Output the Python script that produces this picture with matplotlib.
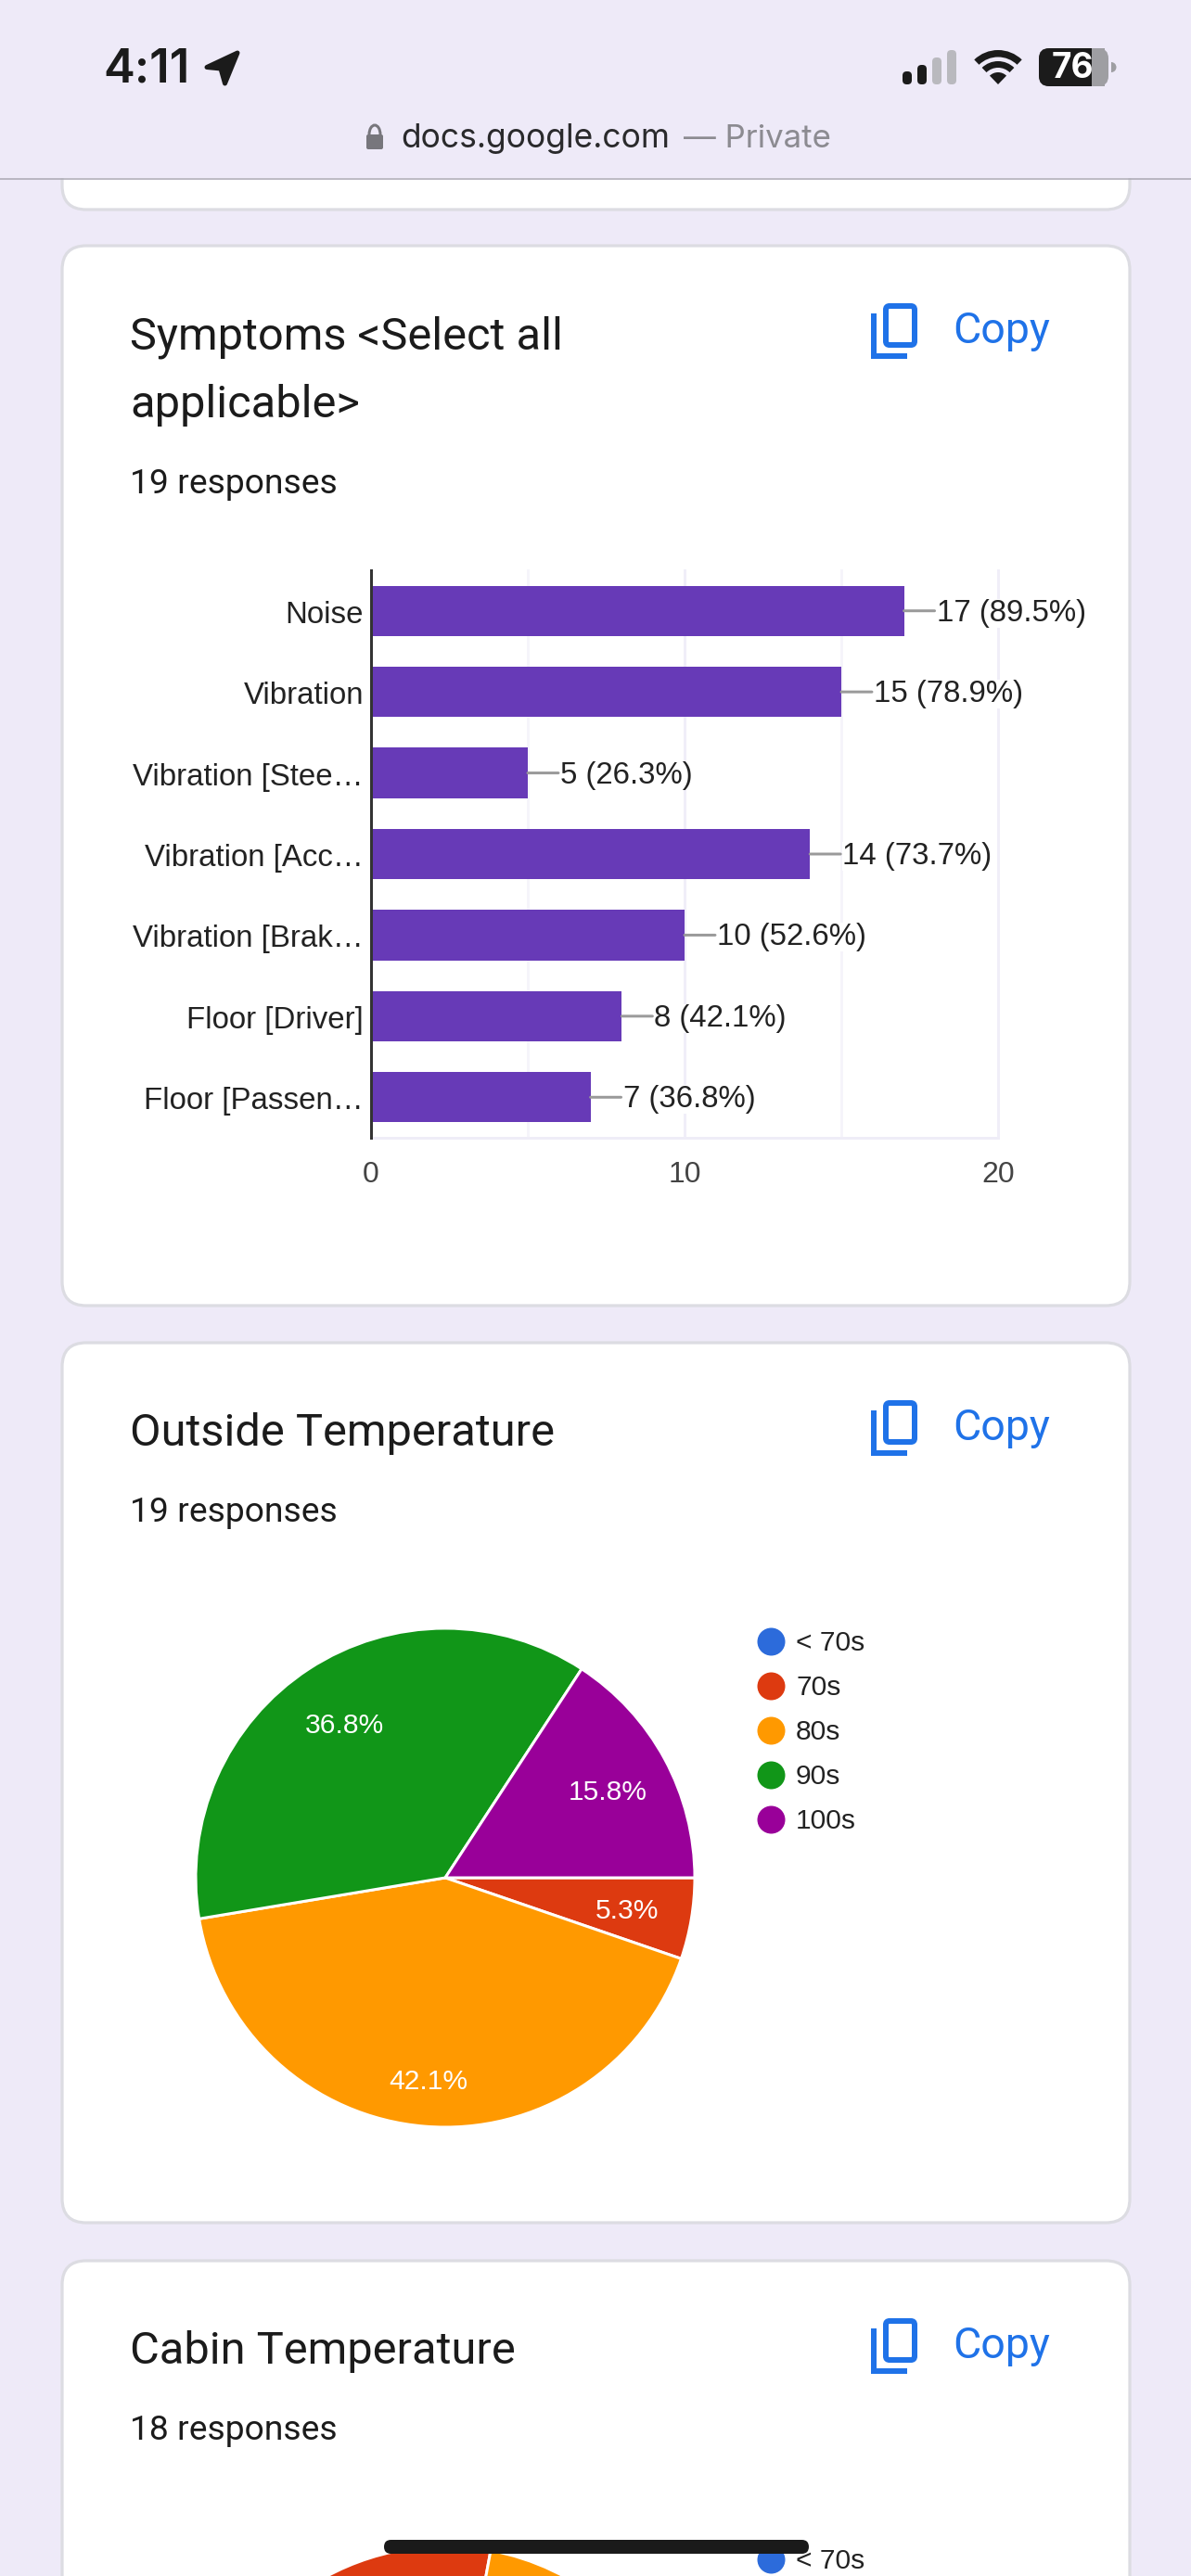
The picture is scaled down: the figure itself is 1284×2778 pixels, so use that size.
import matplotlib
matplotlib.use("Agg")
import matplotlib.pyplot as plt
from matplotlib.patches import FancyBboxPatch, Rectangle, Wedge, Polygon, Arc
from matplotlib.lines import Line2D
from matplotlib.transforms import ScaledTranslation

# ---------- data ----------
symptom_labels = ["Noise", "Vibration", "Vibration [Stee…", "Vibration [Acc…",
                  "Vibration [Brak…", "Floor [Driver]", "Floor [Passen…"]
symptom_counts = [17, 15, 5, 14, 10, 8, 7]
symptom_pcts = ["89.5", "78.9", "26.3", "73.7", "52.6", "42.1", "36.8"]
bar_ticks = [0, 10, 20]
bar_grid = [5, 10, 15, 20]

temp_labels = ["< 70s", "70s", "80s", "90s", "100s"]
outside_counts = [0, 1, 8, 7, 3]
cabin_counts = [0, 9, 6, 3, 0]   # mostly hidden below the screen edge: estimated

# ---------- style ----------
W, H = 1284, 2778
DPI = 100
BG = "#EEEAF8"
CARD_EDGE = "#DCDCE2"
INK = "#1B1B1B"
BLUE = "#1F72E8"
BAR = "#673AB7"
PIE_COLORS = ["#2C6BDB", "#DD3A10", "#FF9900", "#119618", "#990099"]
UI = "Roboto"
CHART = "Liberation Sans"
SYS = "Inter"


def pt(px):
    return px * 72 / DPI


fig = plt.figure(figsize=(W / DPI, H / DPI), dpi=DPI, facecolor=BG)


def pixel_axes(z):
    a = fig.add_axes([0, 0, 1, 1], zorder=z)
    a.set_xlim(0, W)
    a.set_ylim(H, 0)
    a.axis("off")
    a.patch.set_alpha(0)
    return a


def place(x0, y0, x1, y1, z=2):
    return fig.add_axes([x0 / W, 1 - y1 / H, (x1 - x0) / W, (y1 - y0) / H], zorder=z)


bg = pixel_axes(0)
top = pixel_axes(10)

# ---------- cards ----------
for y0, y1 in [(-200, 226), (265, 1408), (1448, 2397), (2438, 3400)]:
    bg.add_patch(FancyBboxPatch((67, y0), 1151, y1 - y0,
                                boxstyle="round,pad=0,rounding_size=26",
                                fc="white", ec=CARD_EDGE, lw=pt(3.2)))


def copy_button(dy):
    bg.add_patch(FancyBboxPatch((955, 330 + dy), 31, 42, boxstyle="round,pad=0,rounding_size=4",
                                fc="none", ec=BLUE, lw=pt(6)))
    bg.add_line(Line2D([942, 942, 978], [338 + dy, 384 + dy, 384 + dy], color=BLUE,
                       lw=pt(6), solid_joinstyle="miter", solid_capstyle="butt"))
    bg.text(1027, 357 + dy, "Copy", family=UI, fontsize=pt(46.5), color=BLUE,
            va="center", ha="left")


copy_button(0)
copy_button(1183)
copy_button(2173)

title_kw = dict(family=UI, fontsize=pt(48.7), color=INK, va="center", ha="left")
sub_kw = dict(family=UI, fontsize=pt(37.3), color=INK, va="center", ha="left")
bg.text(140, 364, "Symptoms <Select all", **title_kw)
bg.text(140, 437, "applicable>", **title_kw)
bg.text(140, 522, "19 responses", **sub_kw)
bg.text(140, 1546, "Outside Temperature", **title_kw)
bg.text(140, 1631, "19 responses", **sub_kw)
bg.text(140, 2536, "Cabin Temperature", **title_kw)
bg.text(140, 2621, "18 responses", **sub_kw)

# ---------- header ----------
bg.add_patch(Rectangle((0, 0), W, 192, fc=BG, ec="none", zorder=5))
bg.add_line(Line2D([0, W], [192.5, 192.5], color="#A9A7B2", lw=pt(1.5), zorder=6))
bg.text(111, 75, "4:11", family=SYS, fontsize=pt(51), fontweight="semibold", color=INK,
        va="center", ha="left", zorder=6)
bg.add_patch(Polygon([(256, 57), (223, 72.5), (238, 74), (242.5, 90)], closed=True,
                     fc=INK, ec=INK, lw=pt(5), joinstyle="round", zorder=6))
for x, y, c in [(973, 77, INK), (989, 70, INK), (1005, 62, "#B9B9BE"), (1021, 54, "#B9B9BE")]:
    bg.add_patch(FancyBboxPatch((x, y), 10, 91 - y, boxstyle="round,pad=0,rounding_size=4.5",
                                fc=c, ec="none", zorder=6))
for r, w in [(37, 7.5), (25, 7), (13, None)]:
    bg.add_patch(Wedge((1076, 91), r, 226, 314, width=w, fc=INK, ec="none", zorder=6))
bg.add_patch(FancyBboxPatch((1120, 52), 75, 41, boxstyle="round,pad=0,rounding_size=11",
                            fc="#9E9EA2", ec="none", zorder=6))
bg.add_patch(FancyBboxPatch((1120, 52), 70, 41, boxstyle="round,pad=0,rounding_size=11",
                            fc=INK, ec="none", zorder=6))
bg.add_patch(Rectangle((1177, 52), 14, 41, fc="#9E9EA2", ec="none", zorder=6))
bg.add_patch(Wedge((1198, 72.5), 5.5, 270, 90, fc="#9E9EA2", ec="none", zorder=6))
bg.text(1156, 74, "76", family=SYS, fontsize=pt(37), fontweight="bold", color="white",
        va="center", ha="center", zorder=7)
bg.add_patch(FancyBboxPatch((395, 145), 18, 16, boxstyle="round,pad=0,rounding_size=2",
                            fc="#77767C", ec="none", zorder=6))
bg.add_patch(Arc((404, 145), 12, 20, theta1=180, theta2=360, color="#77767C", lw=pt(3), zorder=6))
bg.text(432, 150, "docs.google.com", family=SYS, fontsize=pt(35.5), color="#2A2A2C",
        va="center", ha="left", zorder=6)
bg.text(737, 150, "— Private", family=SYS, fontsize=pt(34.8), color="#8C8B91",
        va="center", ha="left", zorder=6)

# ---------- bar chart ----------
ax = place(400, 615, 1076, 1227)
ax.patch.set_alpha(0)
ypos = list(range(len(symptom_labels)))
for g in bar_grid:
    ax.axvline(g, color="#F0EEF8" if g % 10 == 0 else "#F5F4FA", lw=pt(3), zorder=0, clip_on=False)
ax.barh(ypos, symptom_counts, height=0.62, color=BAR, zorder=2)
ax.set_xlim(0, 20)
ax.set_ylim(len(symptom_labels) - 0.5, -0.5)
ax.set_yticks(ypos, symptom_labels, family=CHART, fontsize=pt(33), color="#222222")
ax.set_xticks(bar_ticks, [str(t) for t in bar_ticks], family=CHART, fontsize=pt(32), color="#444444")
ax.tick_params(axis="y", length=0, pad=pt(8))
ax.tick_params(axis="x", length=0, pad=pt(25))
shift = ScaledTranslation(0, -1 / DPI, fig.dpi_scale_trans)
for t in ax.get_yticklabels():
    t.set_transform(t.get_transform() + shift)
for s in ["top", "right"]:
    ax.spines[s].set_visible(False)
ax.spines["bottom"].set_color("#EFEDF7")
ax.spines["bottom"].set_linewidth(pt(3))
ax.spines["left"].set_color("#333333")
ax.spines["left"].set_linewidth(pt(3))
ax.spines["left"].set_zorder(5)
for y, c, p in zip(ypos, symptom_counts, symptom_pcts):
    ax.annotate("", xy=(c, y), xytext=(pt(33), 0), textcoords="offset points",
                arrowprops=dict(arrowstyle="-", color="#9A9A9A", lw=pt(3), shrinkA=0, shrinkB=0),
                zorder=3)
    ax.annotate(f"{c} ({p}%)", xy=(c, y), xytext=(pt(35), -pt(2.5)), textcoords="offset points",
                family=CHART, fontsize=pt(33), color="#222222", va="center", ha="left", zorder=4,
                annotation_clip=False,
                bbox=dict(fc="white", ec="none", pad=0))


# ---------- pies ----------
def pie_chart(cx, cy, counts, start, legend_labels, show_pct=True):
    r = 269
    a = place(cx - r, cy - r, cx + r, cy + r)
    a.patch.set_alpha(0)
    extra = {}
    if show_pct:
        extra = dict(autopct=lambda v: f"{v:.1f}%" if v > 0 else "", pctdistance=0.74,
                     textprops=dict(family=CHART, fontsize=pt(30), color="white"))
    result = a.pie(counts, colors=PIE_COLORS, startangle=start, counterclock=False, radius=1,
                   wedgeprops=dict(edgecolor="white", linewidth=pt(3)), **extra)
    a.set_xlim(-1, 1)
    a.set_ylim(-1, 1)
    if show_pct:
        for t, c in zip(result[2], counts):
            x, y = t.get_position()
            k = 1.095 if c == max(counts) else 1.0
            t.set_position((x * k, y * k - 3 / r))
    handles = [Line2D([], [], ls="none", marker="o", ms=pt(30), mfc=c, mec="none")
               for c, _ in zip(PIE_COLORS, legend_labels)]
    fig.legend(handles, legend_labels, loc="upper left", frameon=False,
               bbox_to_anchor=(831 / W, 1 - (cy - 267) / H), borderaxespad=0, borderpad=0,
               prop=dict(family=CHART, size=pt(30)), labelcolor="#222222",
               labelspacing=0.67, handlelength=0, handletextpad=0.9)


pie_chart(480, 2025, outside_counts, 0, temp_labels)
# Only the first legend row and the top of this pie are on screen.
pie_chart(480, 3015, cabin_counts, 259.5, temp_labels[:1], show_pct=False)

# ---------- home indicator ----------
top.add_patch(FancyBboxPatch((414, 2739), 458, 15, boxstyle="round,pad=0,rounding_size=7.5",
                             fc="#1A1A1A", ec="none"))

fig.savefig("out.png", dpi=DPI, facecolor=BG)
